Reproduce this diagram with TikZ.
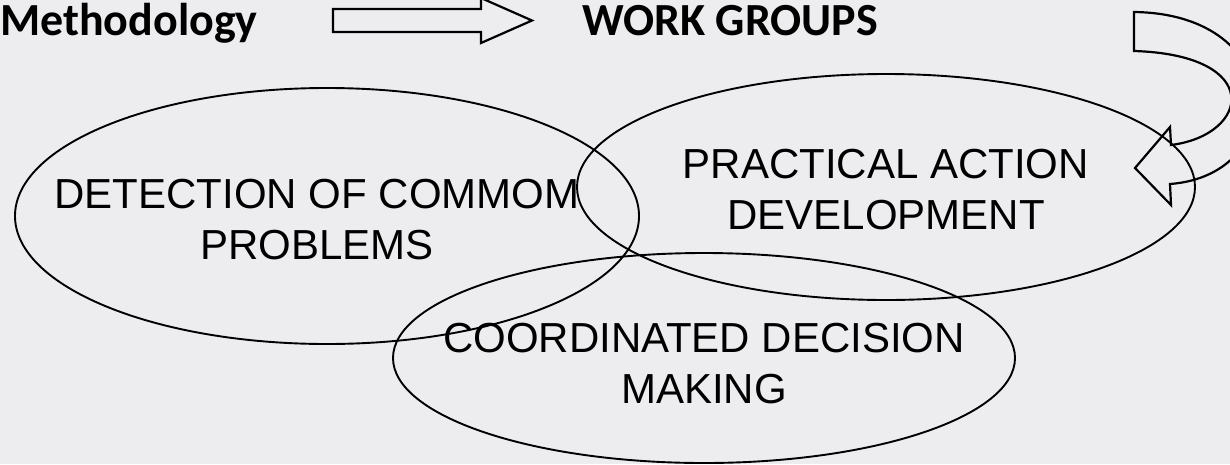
\documentclass[tikz,border=0pt]{standalone}
\usepackage{fontspec}
\setmainfont{Liberation Sans}
\newfontfamily\headfont{Carlito}
\definecolor{bgray}{RGB}{237,237,240}

\begin{document}
\begin{tikzpicture}[x=1pt,y=-1pt,
    field/.style={inner sep=0pt,align=center,
      font=\fontsize{42}{51}\selectfont},
    ring/.style={draw,line width=1.9pt},
    head/.style={font=\headfont\bfseries\fontsize{46}{50}\selectfont,
      anchor=base west,inner sep=0pt},
    blockarrow/.style={draw,line width=2.2pt,line join=miter}]

  \fill[bgray] (0,0) rectangle (1230,464);
  \useasboundingbox (0,0) rectangle (1230,464);
  \clip (0,0) rectangle (1230,464);

  \node[head] (meth) at (0,35) {Methodology};
  \node[head] (work) at (582,35) {WORK GROUPS};

  \node[field] (detect) at (317,220) {DETECTION OF COMMOM\\PROBLEMS};
  \node[field] (action) at (886,190) {PRACTICAL ACTION\\DEVELOPMENT};
  \node[field] (decide) at (704,364) {COORDINATED DECISION\\MAKING};

  % rings round the three fields
  \draw[ring] (detect.center) ++(10,-4) ellipse [x radius=312, y radius=128];
  \draw[ring] (action.center) ++(0,-3) ellipse [x radius=309, y radius=113];
  \draw[ring] (decide.center) ++(0,-6) ellipse [x radius=311, y radius=105];

  % straight block arrow
  \draw[blockarrow] (333,9) -- (481,9) -- (481,-2) -- (532,20.5)
    -- (481,43) -- (481,32) -- (333,32) -- cycle;

  % curved block arrow
  \draw[blockarrow] (1134,12) .. controls (1290,14) and (1290,175) .. (1170,184)
    -- (1171,205) -- (1135,168) -- (1170,127) -- (1171,145)
    .. controls (1250,135) and (1265,55) .. (1134,51) -- cycle;

\end{tikzpicture}
\end{document}
